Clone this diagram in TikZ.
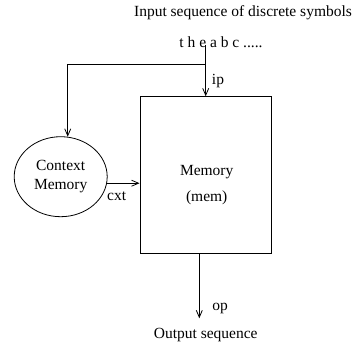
\documentclass[tikz,border=0pt]{standalone}
\usepackage{fontspec}
\setmainfont{Liberation Serif}
\usetikzlibrary{arrows.meta,shapes.geometric}
\begin{document}
\begin{tikzpicture}[x=1pt,y=-1pt,
  every node/.style={font=\fontsize{15.5}{18.6}\selectfont, inner sep=0pt},
  conn/.style={line width=0.8pt, -{Straight Barb[length=7pt,width=6pt,line width=0.8pt]}},
  plain/.style={line width=0.8pt},
  membox/.style={draw, line width=0.8pt, rectangle, minimum width=131.7pt, minimum height=156.6pt},
  ctxshape/.style={draw, line width=0.8pt, ellipse, minimum width=93pt, minimum height=80pt, align=center}]
\useasboundingbox (0,0) rectangle (355,343);

% texts
\node (title) at (243,13) {Input sequence of discrete symbols};
\node (seq) at (221,42) {t h e a b c .....};
\node (outlbl) at (205.7,335) {Output sequence};

% blocks
\node[membox] (mem) at (205.8,175) {};
\node[align=center] (memtxt) at (206.7,185) {Memory\\[7pt](mem)};
\node[ctxshape] (ctx) at (60.7,176.7) {Context\\Memory};

% connectors
\coordinate (src) at (205.7,45);
\coordinate (j) at (205.7,64.3);
\coordinate (outp) at (199.3,318.3);
\draw[conn] (src) -- (src |- mem.north);
\draw[conn] (j) -| (ctx.80);
\draw[conn] (ctx.-8) -- (ctx.-8 -| mem.west);
\draw[conn] (outp |- mem.south) -- (outp);

% connector labels
\node (ip) at (218,81) {ip};
\node (cxt) at (116.7,196.7) {cxt};
\node (op) at (220,308.3) {op};
\end{tikzpicture}
\end{document}
